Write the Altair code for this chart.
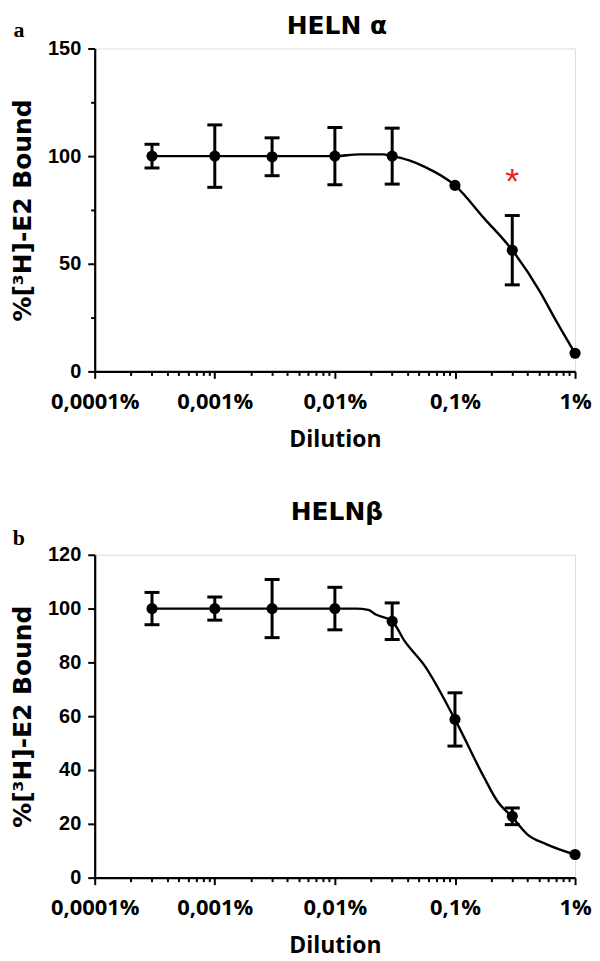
import altair as alt
import pandas as pd

# ---------------- data ----------------
dilution = [0.0003, 0.001, 0.003, 0.01, 0.03, 0.1, 0.3, 1]

a_mean = [100, 100, 99.7, 100, 100, 86.4, 56.3, 8.4]
a_err = [5.5, 14.5, 8.8, 13.3, 13.0, 0, 16.1, 0]
a_curve_x = [0.0003, 0.001, 0.003, 0.01, 0.016, 0.025, 0.03, 0.041, 0.056, 0.1, 0.175, 0.3, 0.51, 0.70, 1]
a_curve_y = [100, 100, 100, 100, 100.8, 100.8, 100, 98.1, 95.0, 86.4, 71.1, 56.3, 37.1, 23.2, 8.4]

b_mean = [100, 100, 100, 100, 95.3, 58.8, 22.8, 8.6]
b_err = [6.0, 4.3, 10.8, 7.9, 6.8, 9.9, 3.1, 0]
b_curve_x = [0.0003, 0.001, 0.003, 0.01, 0.015, 0.019, 0.0217, 0.03, 0.038, 0.056, 0.1, 0.175, 0.225, 0.3, 0.40, 0.58, 1]
b_curve_y = [100, 100, 100, 100, 100, 99.5, 97.9, 95.3, 88.0, 78.7, 58.8, 37.2, 28.5, 22.5, 16.1, 12.4, 8.6]

star_x = [0.3]
star_y = [88]
star_text = ["*"]

x_major = [0.0001, 0.001, 0.01, 0.1, 1]
x_major_labels = ["0,0001%", "0,001%", "0,01%", "0,1%", "1%"]
x_ticks = []
for m in x_major[:-1]:
    for k in range(1, 10):
        x_ticks.append(m * k)
x_ticks.append(1)

a_yticks = [0, 25, 50, 75, 100, 125, 150]
b_yticks = [0, 10, 20, 30, 40, 50, 60, 70, 80, 90, 100, 110, 120]

titles = ["HELN \u03b1", "HELN\u03b2"]
letters = ["a", "b"]
y_title = "%[\u00b3H]-E2 Bound"
x_title = "Dilution"

# ---------------- helpers ----------------
SANS = "Liberation Sans, Arial, sans-serif"
WIDE = "DejaVu Sans, Liberation Sans, sans-serif"
OPEN = "Open Sans, Liberation Sans, sans-serif"

x_label_expr = " : ".join(
    f"abs(datum.value - {v}) < {v * 1e-6} ? '{t}'" for v, t in zip(x_major, x_major_labels)
) + " : ''"
x_major_test = "abs(log(datum.value)/LN10 - round(log(datum.value)/LN10)) < 0.001"

W, H = 482, 324


def panel(mean, err, cx, cy, title, title_y, letter, letter_y, ymax, yticks, ymajor, star=False):
    pts = pd.DataFrame({"x": dilution, "y": mean, "e": err})
    pts["lo"] = pts["y"] - pts["e"]
    pts["hi"] = pts["y"] + pts["e"]
    bars = pts[pts["e"] > 0]
    curve = pd.DataFrame({"x": cx, "y": cy})

    xscale = alt.Scale(type="log", domain=[0.0001, 1], nice=False)
    yscale = alt.Scale(domain=[0, ymax], nice=False, zero=True)

    xaxis = alt.Axis(
        values=x_ticks,
        labelExpr=x_label_expr,
        labelOverlap=False,
        labelFlush=False,
        labelBound=False,
        tickSize={"condition": {"test": x_major_test, "value": 7}, "value": 4},
        tickWidth=2,
        tickColor="black",
        domainColor="black",
        domainWidth=2.2,
        labelFont=OPEN,
        labelFontSize=22,
        labelFontWeight="bold",
        labelColor="black",
        labelPadding=13,
        title=x_title,
        titleFont=OPEN,
        titleFontSize=23,
        titleFontWeight="bold",
        titleColor="black",
        titlePadding=16,
        grid=False,
    )
    yaxis = alt.Axis(
        values=yticks,
        labelExpr=f"datum.value % {ymajor} == 0 ? datum.value : ''",
        labelOverlap=False,
        labelFlush=False,
        tickSize={"condition": {"test": f"datum.value % {ymajor} == 0", "value": 7}, "value": 4},
        tickWidth=2,
        tickColor="black",
        domainColor="black",
        domainWidth=2.2,
        labelFont=SANS,
        labelFontSize=20,
        labelFontWeight="bold",
        labelColor="black",
        labelPadding=7,
        title=y_title,
        titleFont=WIDE,
        titleFontSize=25,
        titleFontWeight="bold",
        titleColor="black",
        titlePadding=12,
        grid=False,
    )

    line = alt.Chart(curve).mark_line(
        color="black", strokeWidth=2.4, interpolate="monotone"
    ).encode(
        x=alt.X("x:Q", scale=xscale, axis=xaxis),
        y=alt.Y("y:Q", scale=yscale, axis=yaxis),
    )
    rule = alt.Chart(bars).mark_rule(color="black", strokeWidth=3).encode(
        x="x:Q", y="lo:Q", y2="hi:Q"
    )
    cap_lo = alt.Chart(bars).mark_tick(
        color="black", orient="horizontal", size=15, thickness=3, opacity=1
    ).encode(x="x:Q", y="lo:Q")
    cap_hi = alt.Chart(bars).mark_tick(
        color="black", orient="horizontal", size=15, thickness=3, opacity=1
    ).encode(x="x:Q", y="hi:Q")
    dots = alt.Chart(pts).mark_point(
        filled=True, color="black", size=125, opacity=1, shape="circle"
    ).encode(x="x:Q", y="y:Q")
    lab = alt.Chart(pd.DataFrame({"t": [letter]})).mark_text(
        font="Liberation Serif", fontWeight="bold", fontSize=22, color="black",
        align="center", baseline="alphabetic",
    ).encode(text="t:N", x=alt.value(-76), y=alt.value(letter_y))
    ttl = alt.Chart(pd.DataFrame({"t": [title]})).mark_text(
        font=WIDE, fontWeight="bold", fontSize=25, color="black",
        align="center", baseline="alphabetic",
    ).encode(text="t:N", x=alt.value(W / 2 + 2), y=alt.value(title_y))

    layers = [line, rule, cap_lo, cap_hi, dots, lab, ttl]
    if star:
        st = alt.Chart(pd.DataFrame({"x": star_x, "y": star_y, "t": star_text})).mark_text(
            font=SANS, fontSize=36, color="#e8202a", baseline="middle", align="center"
        ).encode(x="x:Q", y="y:Q", text="t:N")
        layers.append(st)

    return alt.layer(*layers).properties(width=W, height=H)


pa = panel(a_mean, a_err, a_curve_x, a_curve_y, titles[0], -15, letters[0], -12,
           150, a_yticks, 50, star=True)
pb = panel(b_mean, b_err, b_curve_x, b_curve_y, titles[1], -35, letters[1], -10,
           120, b_yticks, 20)

chart = alt.vconcat(pa, pb, spacing=47).properties(
    padding={"left": 2, "top": 3, "right": 0, "bottom": 0}
).configure_view(stroke=None).configure(background="white")

chart.save("out.html", embed_options={"renderer": "svg", "actions": False})
